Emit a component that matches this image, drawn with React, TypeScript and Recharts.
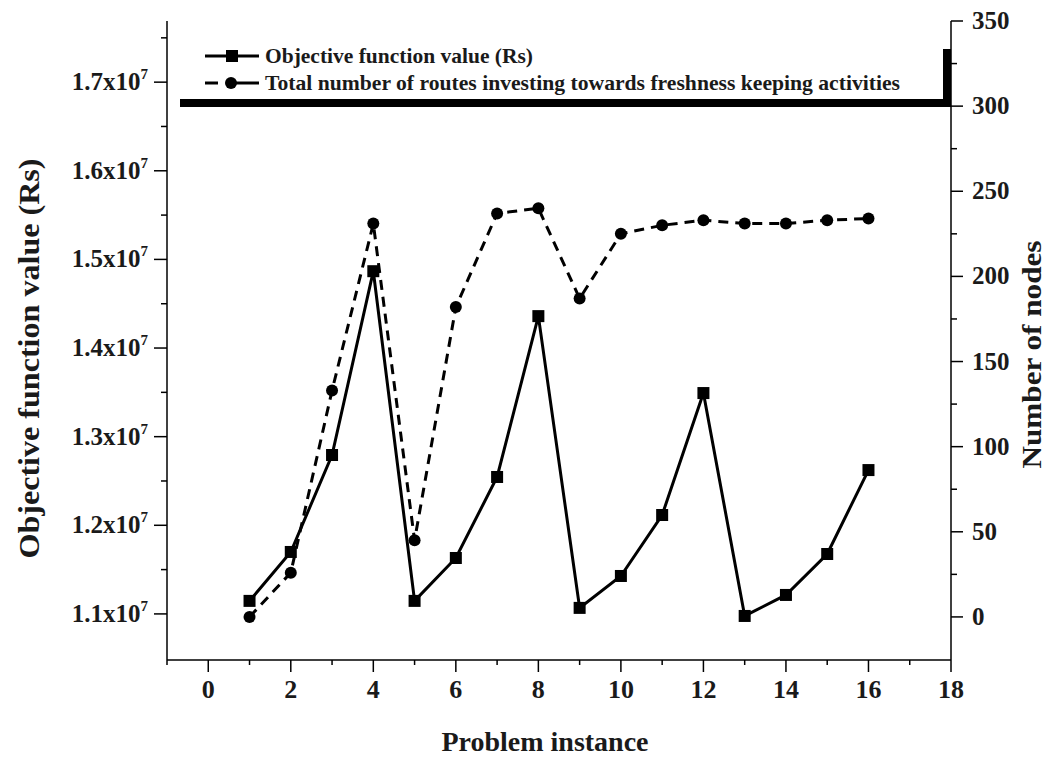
import React from 'react';
import { ComposedChart, Line, XAxis, YAxis, Legend, Label } from 'recharts';

const FONT = '"Liberation Serif", "Times New Roman", serif';
const INK = '#1a1a1a';

// Problem instances on the x axis
const instances = [1, 2, 3, 4, 5, 6, 7, 8, 9, 10, 11, 12, 13, 14, 15, 16];
// Objective function value (Rs), left axis
const objectiveValues = [
  11147000, 11699000, 12793000, 14867000, 11147000, 11631000, 12545000, 14360000,
  11068000, 11428000, 12116000, 13492000, 10977000, 11214000, 11676000, 12623000,
];
// Number of routes investing in freshness keeping, right axis
const routeCounts = [0, 26, 133, 231, 45, 182, 237, 240, 187, 225, 230, 233, 231, 231, 233, 234];

const xTicks = [-1, 0, 1, 2, 3, 4, 5, 6, 7, 8, 9, 10, 11, 12, 13, 14, 15, 16, 17, 18];
const topTicks = [0, 1, 2, 3, 4, 5, 6, 7, 8, 9, 10, 11, 12, 13, 14, 15, 16, 17];
const leftTicks = [
  11000000, 11500000, 12000000, 12500000, 13000000, 13500000, 14000000,
  14500000, 15000000, 15500000, 16000000, 16500000, 17000000, 17500000,
];
const rightTicks = [0, 25, 50, 75, 100, 125, 150, 175, 200, 225, 250, 275, 300, 325, 350];

const seriesNames = [
  'Objective function value (Rs)',
  'Total number of routes investing towards freshness keeping activities',
];
const xTitle = 'Problem instance';
const leftTitle = 'Objective function value (Rs)';
const rightTitle = 'Number of nodes';

const data = instances.map((instance, i) => ({
  instance,
  objective: objectiveValues[i],
  routes: routeCounts[i],
}));

const BottomTick = ({ x, y, payload }: any) => {
  const v = payload.value;
  const major = v % 2 === 0;
  return (
    <g>
      <line x1={x} y1={y} x2={x} y2={y + (major ? 12 : 5)} stroke="#000" strokeWidth={1.5} />
      {major && (
        <text x={x} y={y + 38} textAnchor="middle" fontFamily={FONT} fontWeight="bold" fontSize={26} fill={INK}>
          {v}
        </text>
      )}
    </g>
  );
};

const TopTick = ({ x, y }: any) => (
  <line x1={x} y1={y} x2={x} y2={y + 5} stroke="#000" strokeWidth={1.5} />
);

const LeftTick = ({ x, y, payload }: any) => {
  const v = payload.value / 1e6;
  const major = Math.abs(v - Math.round(v)) < 1e-6;
  return (
    <g>
      <line x1={x} y1={y} x2={x - (major ? 13 : 6)} y2={y} stroke="#000" strokeWidth={1.5} />
      {major && (
        <text x={x - 19} y={y + 8} textAnchor="end" fontFamily={FONT} fontWeight="bold" fontSize={25} fill={INK}>
          {(v / 10).toFixed(1)}x10
          <tspan fontSize={15} dy={-11}>7</tspan>
        </text>
      )}
    </g>
  );
};

const RightTick = ({ x, y, payload }: any) => {
  const v = payload.value;
  const major = v % 50 === 0;
  return (
    <g>
      <line x1={x} y1={y} x2={x + (major ? 12 : 6)} y2={y} stroke="#000" strokeWidth={1.5} />
      {major && (
        <text x={x + 21} y={y + 8} textAnchor="start" fontFamily={FONT} fontWeight="bold" fontSize={25} fill={INK}>
          {v}
        </text>
      )}
    </g>
  );
};

const SquareDot = ({ cx, cy, index }: any) => (
  <rect key={`sq-${index}`} x={cx - 6} y={cy - 6} width={12} height={12} fill="#000" />
);

const titleStyle = { fontFamily: FONT, fontWeight: 'bold' as const, fill: INK };

const LeftTitle = ({ viewBox }: any) => {
  const cx = viewBox.x + 20;
  const cy = viewBox.y + viewBox.height / 2 + 18;
  return (
    <text x={cx} y={cy} transform={`rotate(-90, ${cx}, ${cy})`} textAnchor="middle" dominantBaseline="central" fontSize={30} textLength={400} lengthAdjust="spacingAndGlyphs" {...titleStyle}>
      {leftTitle}
    </text>
  );
};

const RightTitle = ({ viewBox }: any) => {
  const cx = viewBox.x + 80;
  const cy = viewBox.y + viewBox.height / 2 + 14;
  return (
    <text x={cx} y={cy} transform={`rotate(-90, ${cx}, ${cy})`} textAnchor="middle" dominantBaseline="central" fontSize={28} textLength={228} lengthAdjust="spacingAndGlyphs" {...titleStyle}>
      {rightTitle}
    </text>
  );
};

const BottomTitle = ({ viewBox }: any) => (
  <text x={viewBox.x + 378} y={viewBox.y + 91} textAnchor="middle" fontSize={28} {...titleStyle}>
    {xTitle}
  </text>
);

const LegendBox = () => (
  <div style={{ width: 771, height: 58, background: '#fff', boxShadow: '8px 8px 0 #000' }}>
    <svg width={771} height={58} style={{ display: 'block' }}>
      <line x1={33} y1={15} x2={87} y2={15} stroke="#000" strokeWidth={3} />
      <rect x={54} y={9} width={12} height={12} fill="#000" />
      <text x={93} y={22} fontFamily={FONT} fontWeight="bold" fontSize={22} fill={INK} textLength={268} lengthAdjust="spacingAndGlyphs">
        {seriesNames[0]}
      </text>
      <line x1={33} y1={42} x2={46} y2={42} stroke="#000" strokeWidth={3} />
      <line x1={64} y1={42} x2={87} y2={42} stroke="#000" strokeWidth={3} />
      <circle cx={59} cy={42} r={6} fill="#000" />
      <text x={93} y={49} fontFamily={FONT} fontWeight="bold" fontSize={22} fill={INK} textLength={635} lengthAdjust="spacingAndGlyphs">
        {seriesNames[1]}
      </text>
    </svg>
  </div>
);

export default function App() {
  return (
    <div style={{ position: 'relative', width: 1044, height: 749 }}>
      <ComposedChart width={1044} height={749} data={data} margin={{ top: 13, right: 0, bottom: 0, left: 0 }}>
        <XAxis
          xAxisId="bottom"
          type="number"
          dataKey="instance"
          domain={[-1, 18]}
          ticks={xTicks}
          interval={0}
          allowDataOverflow
          height={97}
          tickSize={0}
          tickMargin={0}
          tickLine={false}
          tick={<BottomTick />}
          axisLine={{ stroke: '#000', strokeWidth: 1.5 }}
        >
          <Label content={BottomTitle} />
        </XAxis>
        <XAxis
          xAxisId="top"
          orientation="top"
          type="number"
          dataKey="instance"
          domain={[-1, 18]}
          ticks={topTicks}
          interval={0}
          allowDataOverflow
          height={0}
          tickSize={0}
          tickMargin={0}
          tickLine={false}
          tick={<TopTick />}
          axisLine={{ stroke: '#000', strokeWidth: 1.5 }}
        />
        <YAxis
          yAxisId="left"
          type="number"
          domain={[10480000, 17690000]}
          ticks={leftTicks}
          interval={0}
          allowDataOverflow
          width={159}
          tickSize={0}
          tickMargin={0}
          tickLine={false}
          tick={<LeftTick />}
          axisLine={{ stroke: '#000', strokeWidth: 1.5 }}
        >
          <Label content={LeftTitle} />
        </YAxis>
        <YAxis
          yAxisId="right"
          orientation="right"
          type="number"
          domain={[-25.3, 350]}
          ticks={rightTicks}
          interval={0}
          allowDataOverflow
          width={101}
          tickSize={0}
          tickMargin={0}
          tickLine={false}
          tick={<RightTick />}
          axisLine={{ stroke: '#000', strokeWidth: 1.5 }}
        >
          <Label content={RightTitle} />
        </YAxis>
        <Legend
          layout="horizontal"
          verticalAlign="middle"
          align="center"
          wrapperStyle={{ left: 164, top: 33, width: 771, height: 58 }}
          content={LegendBox}
        />
        <Line
          xAxisId="bottom"
          yAxisId="right"
          type="linear"
          dataKey="routes"
          name={seriesNames[1]}
          stroke="#000"
          strokeWidth={3}
          strokeDasharray="10 7"
          dot={{ r: 6, fill: '#000', stroke: '#000', strokeWidth: 0 }}
          isAnimationActive={false}
        />
        <Line
          xAxisId="bottom"
          yAxisId="left"
          type="linear"
          dataKey="objective"
          name={seriesNames[0]}
          stroke="#000"
          strokeWidth={3}
          dot={<SquareDot />}
          isAnimationActive={false}
        />
      </ComposedChart>
    </div>
  );
}
